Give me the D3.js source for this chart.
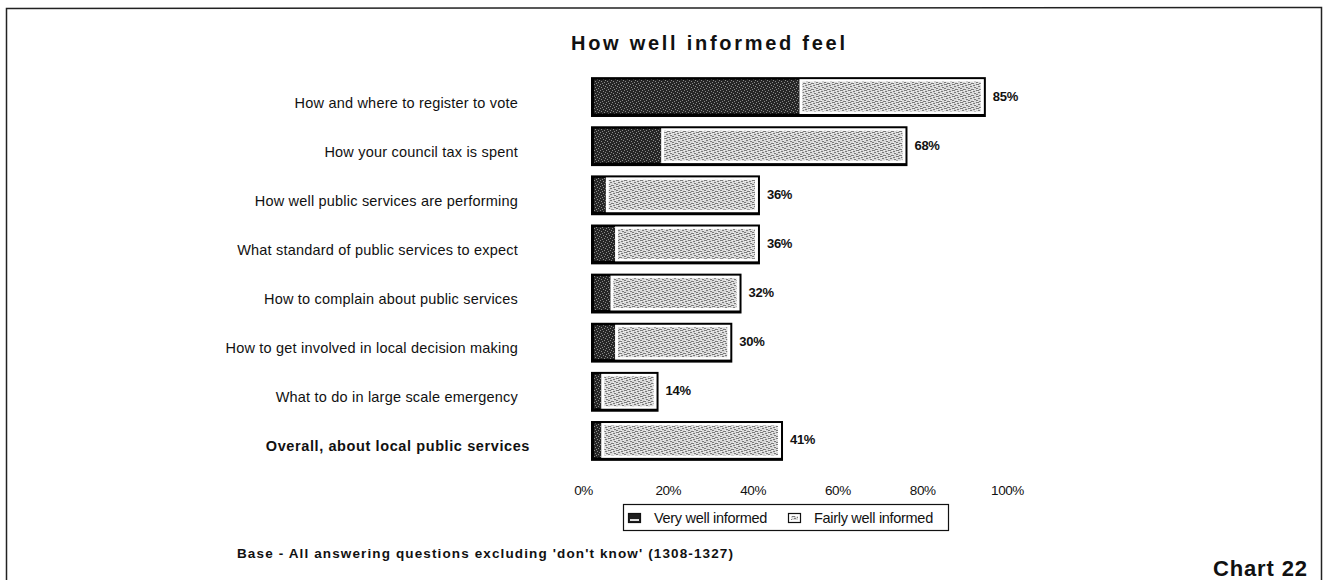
<!DOCTYPE html>
<html>
<head>
<meta charset="utf-8">
<script src="https://cdn.jsdelivr.net/npm/d3@7"></script>
<style>
  html, body { margin: 0; padding: 0; background: #fff; }
  svg { display: block; }
  text { font-family: "Liberation Sans", Arial, sans-serif; fill: #111; }
</style>
</head>
<body>
<svg id="chart" width="1325" height="580"></svg>
<script>
// Survey results: how well informed residents feel about each topic
const categories = [
  "How and where to register to vote",
  "How your council tax is spent",
  "How well public services are performing",
  "What standard of public services to expect",
  "How to complain about public services",
  "How to get involved in local decision making",
  "What to do in large scale emergency",
  "Overall, about local public services"
];
const veryWell   = [45, 15, 3, 5, 4, 5, 2, 2];
const fairlyWell = [40, 53, 33, 31, 28, 25, 12, 39];
const tickValues = [0, 20, 40, 60, 80, 100];
const seriesNames = ["Very well informed", "Fairly well informed"];

const svg = d3.select("#chart");

// Stippled fills for the two series
const defs = svg.append("defs");
const dark = defs.append("pattern").attr("id", "darkFill")
  .attr("patternUnits", "userSpaceOnUse").attr("width", 6).attr("height", 6);
dark.append("rect").attr("width", 6).attr("height", 6).attr("fill", "#262626");
[[0,0],[3,1],[1,3],[4,4],[5,2],[2,5]].forEach(([px, py]) =>
  dark.append("rect").attr("x", px).attr("y", py).attr("width", 1).attr("height", 1).attr("fill", "#8a8a8a"));

const light = defs.append("pattern").attr("id", "lightFill")
  .attr("patternUnits", "userSpaceOnUse").attr("width", 8).attr("height", 6);
light.append("rect").attr("width", 8).attr("height", 6).attr("fill", "#d8d8d8");
[[0,0,3],[5,1,2],[2,2,2],[6,3,2],[0,4,2],[3,5,3]].forEach(([px, py, w]) =>
  light.append("rect").attr("x", px).attr("y", py).attr("width", w).attr("height", 1).attr("fill", "#7a7a7a"));
[[4,0],[1,1],[7,2],[5,4],[1,5]].forEach(([px, py]) =>
  light.append("rect").attr("x", px).attr("y", py).attr("width", 1).attr("height", 1).attr("fill", "#f4f4f4"));

// Page frame
svg.append("path")
  .attr("d", "M6.5,582 L6.5,8.5 L1321.5,7.5 L1321.5,582")
  .attr("fill", "none").attr("stroke", "#222").attr("stroke-width", 1.5);

// Title
svg.append("text")
  .attr("x", 571).attr("y", 50)
  .attr("font-size", 20).attr("font-weight", "bold")
  .attr("textLength", 274).attr("lengthAdjust", "spacing")
  .text("How well informed feel");

// Scales
const x = d3.scaleLinear().domain([0, 100]).range([592, 1053]);
const xTicks = d3.scaleLinear().domain([0, 100]).range([583, 1007]);
const y = d3.scaleBand().domain(categories).range([72, 465])
  .paddingInner(0.25).paddingOuter(0.125);

const rows = categories.map((c, i) => ({
  cat: c, very: veryWell[i], fairly: fairlyWell[i], total: veryWell[i] + fairlyWell[i], i
}));
const lastRow = categories.length - 1;

const g = svg.append("g");
const row = g.selectAll("g.row").data(rows).join("g").attr("class", "row");

// Black outline of each stacked bar
row.append("rect")
  .attr("x", d => x(0) - 1)
  .attr("y", d => y(d.cat) - 1)
  .attr("width", d => x(d.total) - x(0) + 3)
  .attr("height", y.bandwidth() + 3)
  .attr("fill", "#000");

// Very well informed segment
row.append("rect")
  .attr("x", d => x(0) + 2)
  .attr("y", d => y(d.cat) + 1.5)
  .attr("width", d => Math.max(0, x(d.very) - x(0) - 2))
  .attr("height", y.bandwidth() - 3)
  .attr("fill", "url(#darkFill)");

// Fairly well informed segment: white rim with stippled centre
row.append("rect")
  .attr("x", d => x(d.very))
  .attr("y", d => y(d.cat) + 1)
  .attr("width", d => x(d.total) - x(d.very))
  .attr("height", y.bandwidth() - 2)
  .attr("fill", "#fff");
row.append("rect")
  .attr("x", d => x(d.very) + 3)
  .attr("y", d => y(d.cat) + 3.5)
  .attr("width", d => x(d.total) - x(d.very) - 6)
  .attr("height", y.bandwidth() - 7)
  .attr("fill", "url(#lightFill)");

// Total value labels
row.append("text")
  .attr("x", d => x(d.total) + 9)
  .attr("y", d => y(d.cat) + y.bandwidth() / 2 + 4)
  .attr("font-size", 13).attr("font-weight", "bold")
  .attr("letter-spacing", -0.3)
  .text(d => d.total + "%");

// Category labels
row.append("text")
  .attr("x", d => d.i === lastRow ? 530 : 518)
  .attr("y", d => y(d.cat) + y.bandwidth() / 2 + 11)
  .attr("text-anchor", "end")
  .attr("font-size", 14.5)
  .attr("font-weight", d => d.i === lastRow ? "bold" : "normal")
  .attr("letter-spacing", d => d.i === lastRow ? 0.6 : 0.2)
  .text(d => d.cat);

// Percentage axis labels
const axis = d3.axisBottom(xTicks)
  .tickValues(tickValues)
  .tickSize(0).tickPadding(0)
  .tickFormat(d => d + "%");
const ax = svg.append("g").attr("transform", "translate(0,485)").call(axis);
ax.select(".domain").remove();
ax.selectAll("text")
  .attr("font-size", 13.5).attr("letter-spacing", -0.4)
  .attr("font-family", "'Liberation Sans', Arial, sans-serif").attr("fill", "#111");

// Legend
const lg = svg.append("g");
lg.append("rect").attr("x", 623.5).attr("y", 504.5).attr("width", 325).attr("height", 26)
  .attr("fill", "#fff").attr("stroke", "#111").attr("stroke-width", 1.2);
const legendItems = [
  { name: seriesNames[0], sx: 628, tx: 654 },
  { name: seriesNames[1], sx: 788, tx: 814 }
];
legendItems.forEach((it, k) => {
  lg.append("rect").attr("x", it.sx + 0.5).attr("y", 513.5).attr("width", 12).attr("height", 9)
    .attr("fill", k === 0 ? "#1e1e1e" : "#fff")
    .attr("stroke", "#111").attr("stroke-width", 1.2);
  if (k === 0) {
    lg.append("rect").attr("x", it.sx + 2).attr("y", 519).attr("width", 9).attr("height", 2).attr("fill", "#ddd");
  } else {
    lg.append("rect").attr("x", it.sx + 3).attr("y", 516).attr("width", 7).attr("height", 4)
      .attr("fill", "url(#lightFill)");
  }
  lg.append("text").attr("x", it.tx).attr("y", 523)
    .attr("font-size", 14.5).attr("letter-spacing", -0.3)
    .text(it.name);
});

// Base note
svg.append("text")
  .attr("x", 237).attr("y", 558)
  .attr("font-size", 13.5).attr("font-weight", "bold")
  .attr("textLength", 496).attr("lengthAdjust", "spacing")
  .text("Base - All answering questions excluding 'don't know' (1308-1327)");

// Chart number
svg.append("text")
  .attr("x", 1213).attr("y", 576)
  .attr("font-size", 22).attr("font-weight", "bold")
  .attr("textLength", 94).attr("lengthAdjust", "spacing")
  .text("Chart 22");
</script>
</body>
</html>
